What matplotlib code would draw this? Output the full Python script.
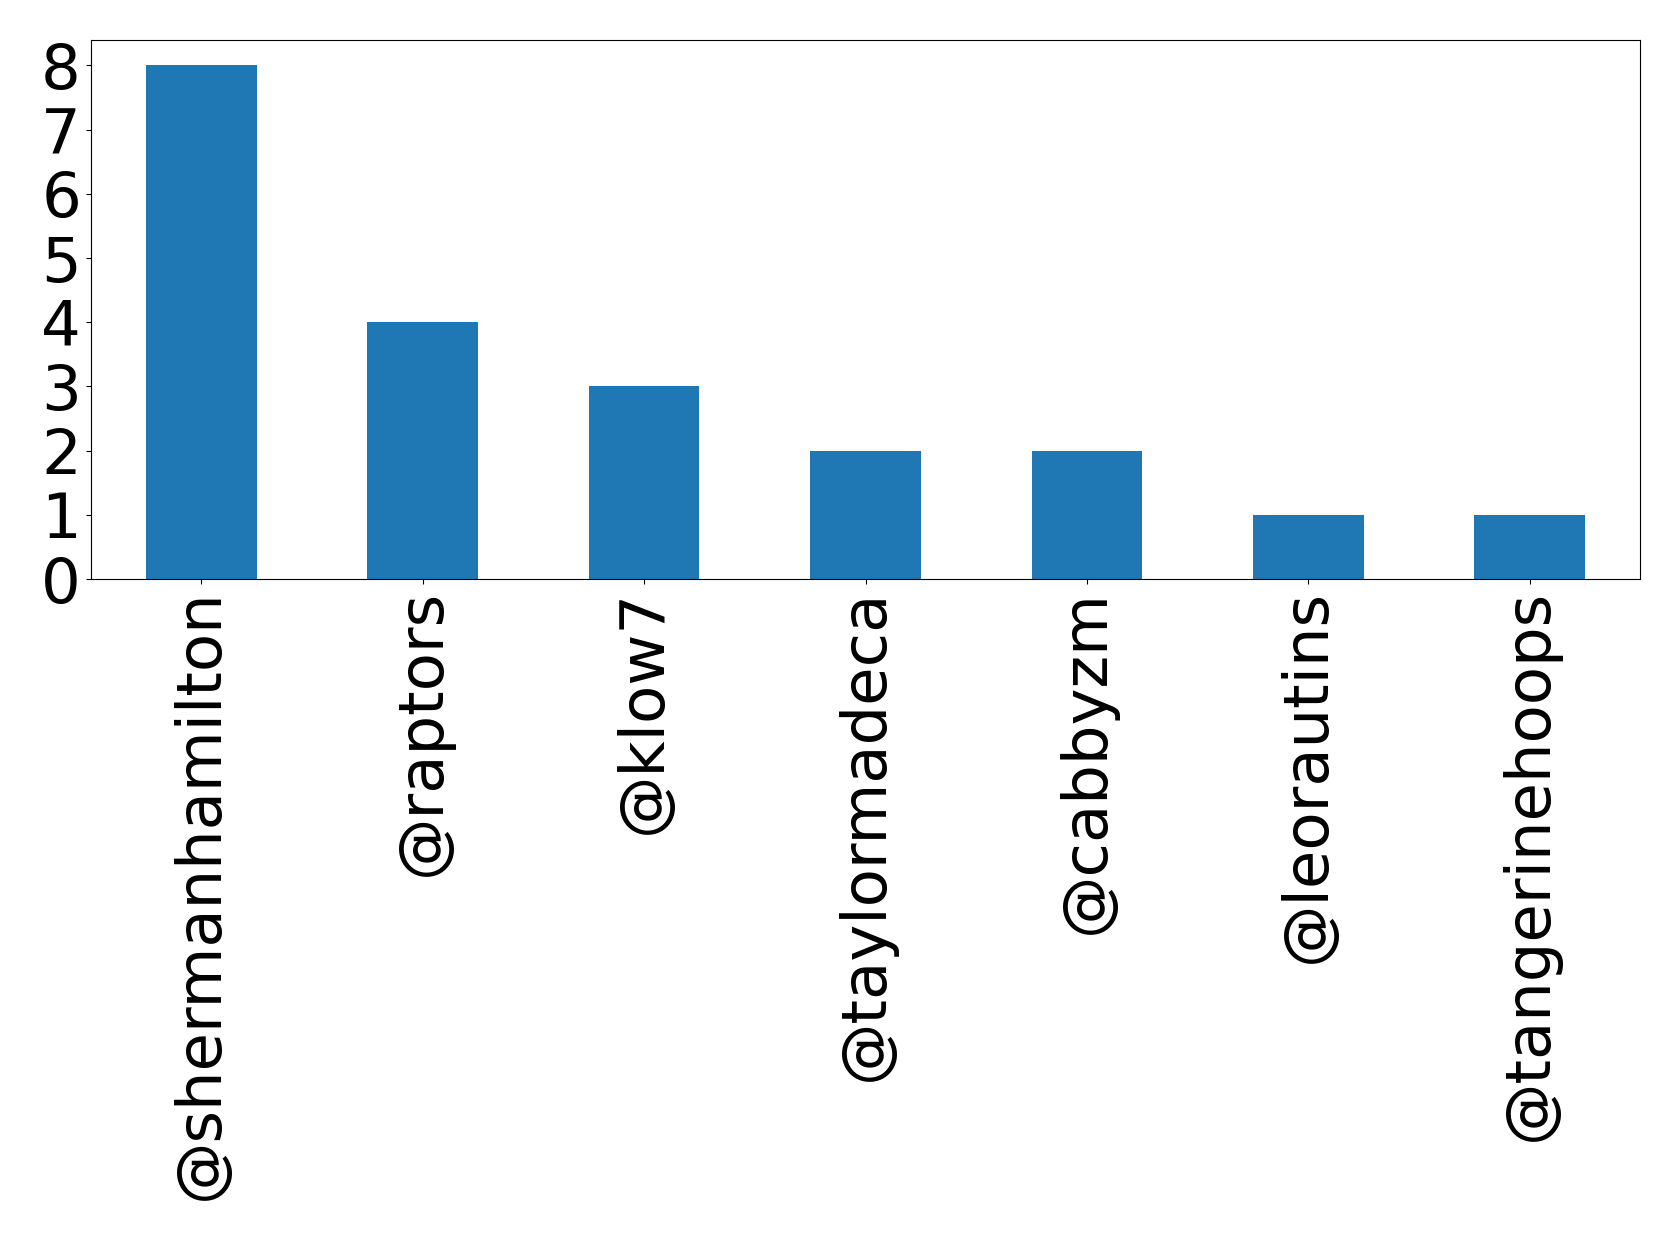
import matplotlib
matplotlib.use("Agg")
import matplotlib.pyplot as plt
import pandas as pd

users = ['@shermanhamilton', '@raptors', '@klow7', '@taylormadeca',
         '@cabbyzm', '@leorautins', '@tangerinehoops']
counts = [8, 4, 3, 2, 2, 1, 1]


def main():
    series = pd.Series(counts, index=users)
    fig, ax = plt.subplots(figsize=(16.79, 12.40), dpi=100)
    series.plot(kind='bar', ax=ax, color='#1f77b4', fontsize=45)
    ax.set_yticks(range(0, 9))
    ax.tick_params(axis='x', labelrotation=90)
    fig.subplots_adjust(left=0.054, right=0.977, top=0.968, bottom=0.533)
    fig.savefig('out.png')


if __name__ == "__main__":
    main()
